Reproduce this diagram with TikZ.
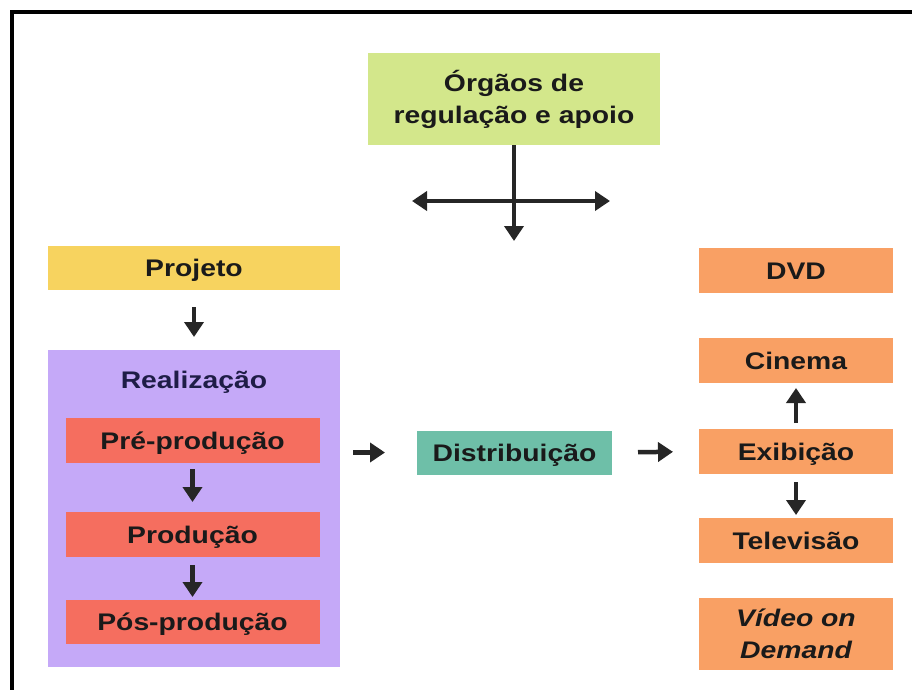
\documentclass[tikz,border=0pt]{standalone}
\usepackage{fontspec}
\setmainfont[FakeStretch=1.18]{Liberation Sans}
\usetikzlibrary{arrows.meta}
\definecolor{cgreen}{HTML}{D3E78B}
\definecolor{cyellow}{HTML}{F7D35F}
\definecolor{clav}{HTML}{C5A9F8}
\definecolor{cred}{HTML}{F56E5F}
\definecolor{cteal}{HTML}{6EBFA8}
\definecolor{corange}{HTML}{F9A064}
\definecolor{ctext}{HTML}{1A1A1A}
\definecolor{cnavy}{HTML}{1F1D47}
\definecolor{carrow}{HTML}{262626}
\tikzset{
  box/.style={inner sep=0pt, outer sep=0pt, text=ctext,
    font=\fontsize{24}{32}\selectfont\bfseries, align=center},
  oneline/.style={box, text height=17.2pt, text depth=0pt},
  arr/.style={line width=4.5pt, draw=carrow, -{Triangle[length=15pt,width=19pt]}},
  arrb/.style={line width=4.5pt, draw=carrow, {Triangle[length=15pt,width=19pt]}-{Triangle[length=15pt,width=19pt]}},
}
\begin{document}
\begin{tikzpicture}[x=1pt,y=-1pt]
\useasboundingbox (0,0) rectangle (912,689);
% frame
\draw[line width=4pt] (11.5,700) -- (11.5,12) -- (930,12);
% top box
\node[box, fill=cgreen, minimum width=292pt, minimum height=92pt] (org) at (514,99) {Órgãos de\\regulação e apoio};
\coordinate (vd) at (514,241);
\coordinate (hl) at (412,201);
\coordinate (hr) at (610,201);
\draw[arr] (org.south) -- (vd);
\draw[arrb] (hl) -- (hr);
% left column
\node[oneline, fill=cyellow, minimum width=292pt, minimum height=44pt] (proj) at (194,268) {Projeto};
\node[box, fill=clav, minimum width=292pt, minimum height=317pt] (realz) at (194,508.5) {};
\node[oneline, text=cnavy] (rlab) at (194,380) {Realização};
\node[oneline, fill=cred, minimum width=254pt, minimum height=45pt] (pre) at (192.5,440.5) {Pré-produção};
\node[oneline, fill=cred, minimum width=254pt, minimum height=45pt] (prod) at (192.5,534.5) {Produção};
\node[oneline, fill=cred, minimum width=254pt, minimum height=44pt] (pos) at (192.5,622) {Pós-produção};
\draw[arr, shorten <=17pt, shorten >=13pt] (proj.south) -- (realz.north);
\draw[arr, shorten <=6pt, shorten >=10pt] (pre.south) -- (prod.north);
\draw[arr, shorten <=8pt, shorten >=3pt] (prod.south) -- (pos.north);
% middle
\node[oneline, fill=cteal, minimum width=195pt, minimum height=44pt] (dist) at (514.5,452.5) {Distribuição};
\draw[arr, shorten <=13pt, shorten >=32pt] (realz.east |- dist.west) -- (dist.west);
% right column
\node[oneline, fill=corange, minimum width=194pt, minimum height=45pt] (dvd) at (796,270.5) {DVD};
\node[oneline, fill=corange, minimum width=194pt, minimum height=45pt] (cine) at (796,360.5) {Cinema};
\node[oneline, fill=corange, minimum width=194pt, minimum height=45pt] (exib) at (796,451.5) {Exibição};
\node[oneline, fill=corange, minimum width=194pt, minimum height=45pt] (tele) at (796,540.5) {Televisão};
\node[box, fill=corange, minimum width=194pt, minimum height=72pt, font=\fontsize{24}{32}\selectfont\bfseries\itshape] (vod) at (796,634) {Vídeo on\\Demand};
\draw[arr, shorten <=26pt, shorten >=26pt] (dist.east) -- (exib.west);
\draw[arr, shorten <=6pt, shorten >=5pt] (exib.north) -- (cine.south);
\draw[arr, shorten <=8pt, shorten >=3pt] (exib.south) -- (tele.north);
\end{tikzpicture}
\end{document}
